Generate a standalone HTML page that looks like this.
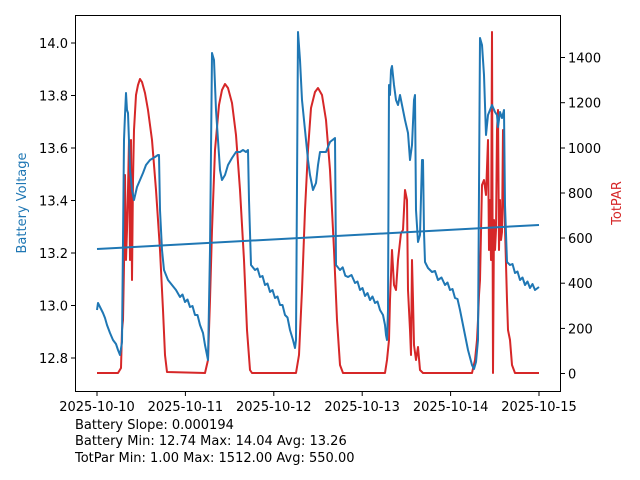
<!DOCTYPE html>
<html><head><meta charset="utf-8"><style>body{margin:0;background:#fff}svg{display:block}text{font-family:"DejaVu Sans","Liberation Sans",sans-serif;font-size:13px;fill:#000}</style></head>
<body>
<svg width="640" height="480" viewBox="0 0 640 480" xmlns="http://www.w3.org/2000/svg">
<rect width="640" height="480" fill="#fff"/>
<polyline fill="none" stroke="#d62728" stroke-width="2" stroke-linejoin="round" points="97,373 118,373 121,368 122,330 123,320 124,265 125,175 126,260 127,230 128,190 129,140 130,260 131,140 132,280 133,180 134,130 136,95 138,85 140,79 142,82 145,93 148,110 152,140 156,190 160,250 163,310 165,355 167,372 205,373 208,360 210,300 212,230 215,150 219,105 222,90 225,84 228,88 232,103 236,135 240,190 244,260 247,330 250,370 252,373 296,373 299,355 302,290 305,210 308,150 311,108 315,92 318,88 322,95 326,120 330,170 334,250 337,320 340,365 343,373 385,373 387,360 389,340 390,300 392,250 394,285 396,290 398,260 401,233 403,230 405,190 407,200 408,290 410,330 411,355 412,260 413,300 414,345 416,360 418,347 420,370 423,373 472,373 475,360 477,340 478,320 479,295 480,280 482,185 484,180 486,195 488,140 489,250 490,200 491,260 492,32 493,373 494,220 495,250 496,230 497,130 498,110 499,250 500,200 501,240 502,232 503,130 504,200 505,228 507,300 508,330 510,340 512,365 515,373 539,373"/>
<polyline id="bl" fill="none" stroke="#1f77b4" stroke-width="2" stroke-linejoin="round" points=""/>
<line x1="97" y1="249" x2="539" y2="225" stroke="#1f77b4" stroke-width="2"/>
<rect x="75.5" y="15.5" width="485" height="376" fill="none" stroke="#000" stroke-width="1"/>
<g stroke="#000" stroke-width="1">
<line x1="71" y1="358" x2="75" y2="358"/><line x1="71" y1="305.5" x2="75" y2="305.5"/><line x1="71" y1="253" x2="75" y2="253"/><line x1="71" y1="200.5" x2="75" y2="200.5"/><line x1="71" y1="148" x2="75" y2="148"/><line x1="71" y1="95.5" x2="75" y2="95.5"/><line x1="71" y1="43" x2="75" y2="43"/>
<line x1="561" y1="373.5" x2="565" y2="373.5"/><line x1="561" y1="328.4" x2="565" y2="328.4"/><line x1="561" y1="283.2" x2="565" y2="283.2"/><line x1="561" y1="238" x2="565" y2="238"/><line x1="561" y1="193" x2="565" y2="193"/><line x1="561" y1="148" x2="565" y2="148"/><line x1="561" y1="102.7" x2="565" y2="102.7"/><line x1="561" y1="57.5" x2="565" y2="57.5"/>
<line x1="97" y1="392" x2="97" y2="396"/><line x1="185.4" y1="392" x2="185.4" y2="396"/><line x1="273.8" y1="392" x2="273.8" y2="396"/><line x1="362.2" y1="392" x2="362.2" y2="396"/><line x1="450.6" y1="392" x2="450.6" y2="396"/><line x1="539" y1="392" x2="539" y2="396"/>
</g>
<g text-anchor="end">
<text x="68" y="363">12.8</text><text x="68" y="310.5">13.0</text><text x="68" y="258">13.2</text><text x="68" y="205.5">13.4</text><text x="68" y="153">13.6</text><text x="68" y="100.5">13.8</text><text x="68" y="48">14.0</text>
</g>
<g>
<text x="568" y="378.5">0</text><text x="568" y="333.4">200</text><text x="568" y="288.2">400</text><text x="568" y="243">600</text><text x="568" y="198">800</text><text x="568" y="153">1000</text><text x="568" y="107.7">1200</text><text x="568" y="62.5">1400</text>
</g>
<g text-anchor="middle">
<text x="97" y="411">2025-10-10</text><text x="185.4" y="411">2025-10-11</text><text x="273.8" y="411">2025-10-12</text><text x="362.2" y="411">2025-10-13</text><text x="450.6" y="411">2025-10-14</text><text x="539" y="411">2025-10-15</text>
</g>
<text transform="translate(26,203) rotate(-90)" text-anchor="middle" style="fill:#1f77b4">Battery Voltage</text>
<text transform="translate(621,203) rotate(-90)" text-anchor="middle" style="fill:#d62728">TotPAR</text>
<text x="75" y="429">Battery Slope: 0.000194</text>
<text x="75" y="445">Battery Min: 12.74 Max: 14.04 Avg: 13.26</text>
<text x="75" y="462">TotPar Min: 1.00 Max: 1512.00 Avg: 550.00</text>
</svg>
<script>
var P=[[97,310],[98,303],[100,307],[103,313],[105,318],[107,325],[110,333],[113,340],[116,344],[118,350],[120,355],[122,342],[124,140],[125,115],[126,93],[127,110],[128,113],[130,170],[132,190],[134,200],[137,187],[140,180],[143,173],[146,165],[150,160],[155,157],[158,155],[159,155],[160,210],[162,250],[164,270],[168,280],[172,285],[176,290],[180,297],[185,302],[190,307],[195,315],[200,325],[203,333],[205,345],[207,355],[208,360],[210,250],[212,53],[214,60],[216,110],[218,140],[220,170],[222,180],[225,175],[228,165],[232,158],[236,152],[240,152],[243,150],[246,152],[248,150],[249,200],[251,265],[255,270],[260,277],[265,285],[270,292],[275,298],[280,305],[285,315],[290,330],[293,340],[295,348],[296,340],[298,32],[300,60],[302,100],[305,130],[308,160],[310,175],[313,190],[316,183],[318,165],[320,152],[326,152],[330,142],[335,138],[336,265],[340,270],[348,277],[355,283],[360,290],[365,296],[370,300],[375,303],[380,310],[383,315],[385,325],[386,335],[387,340],[388,310],[389,85],[390,95],[391,70],[392,66],[394,85],[396,100],[398,105],[400,95],[402,105],[405,120],[408,133],[410,160],[412,145],[414,100],[415,95],[416,210],[418,242],[420,235],[422,160],[423,160],[424,232],[425,262],[428,268],[432,272],[438,280],[445,285],[450,290],[455,298],[460,310],[464,330],[468,350],[472,365],[474,369],[476,362],[478,340],[480,38],[482,45],[484,75],[486,135],[488,115],[490,110],[492,105],[495,112],[497,115],[498,127],[500,112],[502,118],[504,110],[505,205],[507,262],[510,265],[515,273],[520,280],[525,285],[530,288],[535,290],[539,287]];
var out=[];
function saw(x){return (x>=97&&x<=122)||(x>=251&&x<=296)||(x>=164&&x<=208)||(x>=336&&x<=387)||(x>=425&&x<=470)||(x>=507&&x<=539);}
for(var i=0;i<P.length-1;i++){var a=P[i],b=P[i+1];out.push(a);
 if(saw(a[0])&&saw(b[0])&&b[0]-a[0]>=3){var n=Math.floor((b[0]-a[0])/2.5);
  for(var k=1;k<n;k++){var t=k/n,x=a[0]+(b[0]-a[0])*t,y=a[1]+(b[1]-a[1])*t;out.push([x,y+(k%2?-5:1)]);}}}
out.push(P[P.length-1]);
document.getElementById('bl').setAttribute('points',out.map(function(p){return p[0].toFixed(1)+','+p[1].toFixed(1)}).join(' '));
</script>
</body></html>
